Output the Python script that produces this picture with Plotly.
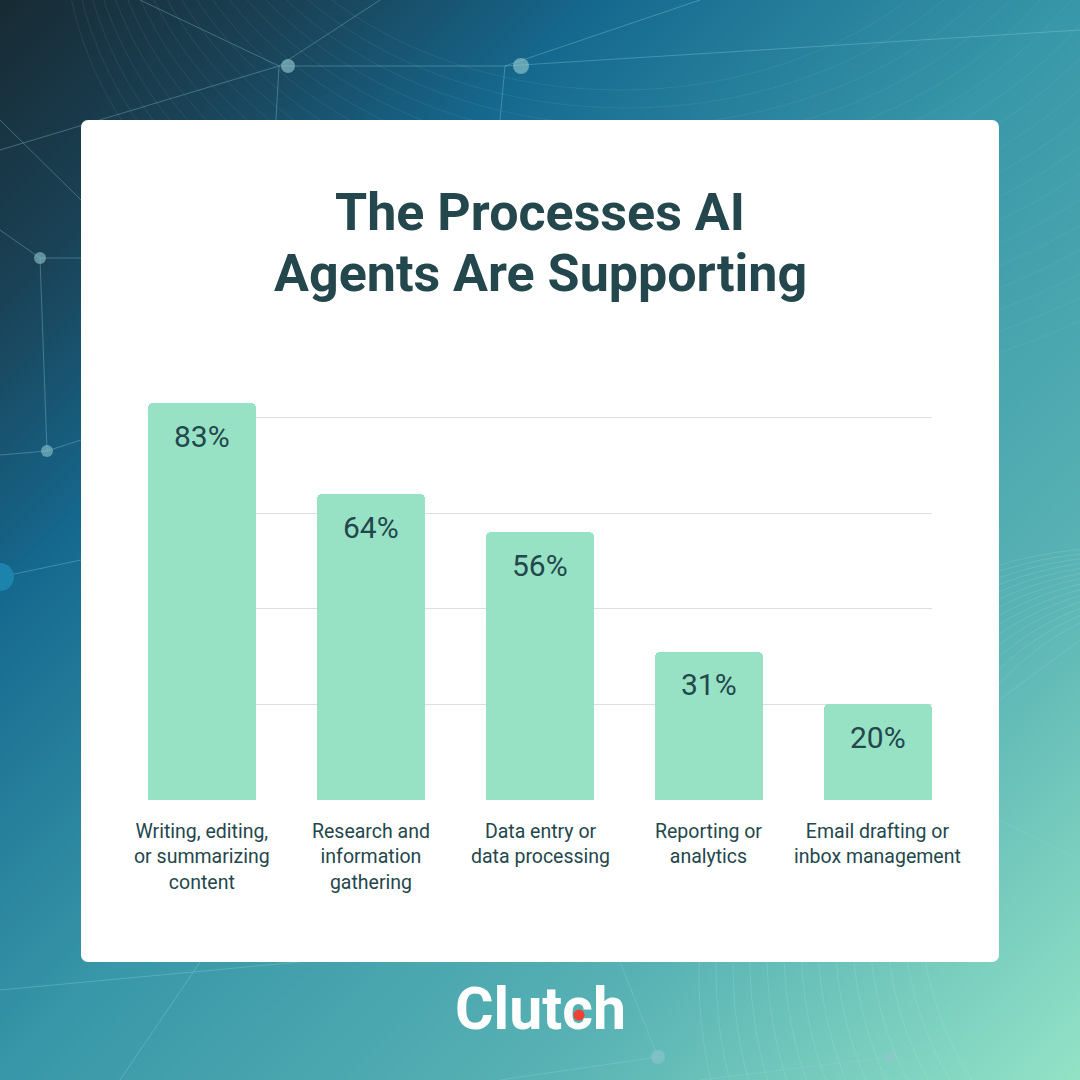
import base64
import plotly.graph_objects as go

# ---------------- data ----------------
categories = [
    "Writing, editing,<br>or summarizing<br>content",
    "Research and<br>information<br>gathering",
    "Data entry or<br>data processing",
    "Reporting or<br>analytics",
    "Email drafting or<br>inbox management",
]
values = [83, 64, 56, 31, 20]
value_labels = ["83%", "64%", "56%", "31%", "20%"]
grid_ticks = [0, 20, 40, 60, 80, 100]
title_lines = ["The Processes AI", "Agents Are Supporting"]
brand_text = "Clutch"

# ---------------- styles ----------------
W = H = 1080
BAR_COLOR = "#97e2c5"
TEXT_COLOR = "#23474c"
GRID_COLOR = "#dcdfdf"

# background (gradient + faint network decoration + white card)
lines = [
    (279, 66, 380, 0), (279, 66, 140, 0), (279, 66, 276, 120), (279, 66, 0, 150),
    (279, 66, 505, 66), (505, 66, 700, 0), (505, 66, 500, 120), (505, 66, 1080, 30),
    (40, 258, 81, 258), (40, 258, 47, 451), (40, 258, 0, 230), (47, 451, 0, 455),
    (47, 451, 81, 440), (0, 577, 81, 560), (0, 120, 81, 200),
    (890, 1057, 1080, 990), (890, 1057, 700, 1080), (890, 1057, 999, 962),
    (658, 1057, 500, 1080), (658, 1057, 620, 962), (999, 700, 1080, 640),
    (999, 820, 1080, 860), (0, 990, 300, 962), (120, 1080, 200, 962),
]
nodes = [(288, 66, 7, 0.35), (521, 66, 8, 0.35), (40, 258, 6, 0.3), (47, 451, 6, 0.3),
         (890, 1057, 6, 0.3), (658, 1057, 7, 0.3)]
svg = [f'<svg xmlns="http://www.w3.org/2000/svg" width="{W}" height="{H}" viewBox="0 0 {W} {H}">',
       '<defs><linearGradient id="g" x1="0" y1="0" x2="1" y2="1">',
       '<stop offset="0" stop-color="#172a33"/>',
       '<stop offset="0.14" stop-color="#1a4256"/>',
       '<stop offset="0.28" stop-color="#15698f"/>',
       '<stop offset="0.5" stop-color="#3897a8"/>',
       '<stop offset="0.75" stop-color="#58b2b4"/>',
       '<stop offset="1" stop-color="#93e3c6"/>',
       '</linearGradient></defs>',
       f'<rect width="{W}" height="{H}" fill="url(#g)"/>']
for i in range(18):
    svg.append(f'<ellipse cx="{620 + i * 6}" cy="{-240 + i * 10}" rx="{420 + i * 14}" ry="{330 + i * 8}" '
               f'fill="none" stroke="#9fd4e0" stroke-opacity="0.10" stroke-width="1"/>')
for i in range(14):
    svg.append(f'<ellipse cx="{1180 - i * 5}" cy="{900 + i * 6}" rx="{260 + i * 12}" ry="{300 + i * 10}" '
               f'fill="none" stroke="#e0fff5" stroke-opacity="0.12" stroke-width="1"/>')
for (x1, y1, x2, y2) in lines:
    svg.append(f'<line x1="{x1}" y1="{y1}" x2="{x2}" y2="{y2}" stroke="#8fd0dc" stroke-opacity="0.35" stroke-width="1"/>')
for (cx, cy, r, o) in nodes:
    svg.append(f'<circle cx="{cx}" cy="{cy}" r="{r}" fill="#8fc6cc" fill-opacity="{o + 0.3}"/>')
svg.append('<circle cx="0" cy="577" r="14" fill="#1d86b0" fill-opacity="0.9"/>')
svg.append('<rect x="81" y="120" width="918" height="842" rx="7" ry="7" fill="#ffffff"/>')
svg.append('<circle cx="579" cy="1015" r="5.5" fill="#ef4136"/>')
svg.append('</svg>')
bg_uri = "data:image/svg+xml;base64," + base64.b64encode("".join(svg).encode()).decode()

fig = go.Figure()
fig.add_trace(go.Bar(
    x=categories, y=values, width=0.64,
    marker=dict(color=BAR_COLOR, line=dict(width=0), cornerradius=5),
    hoverinfo="skip", showlegend=False,
))

annotations = []
for c, v, t in zip(categories, values, value_labels):
    annotations.append(dict(x=c, y=v, xref="x", yref="y", text=t, showarrow=False,
                            yanchor="middle", yshift=-33,
                            font=dict(family="Roboto", size=30, color=TEXT_COLOR)))
    annotations.append(dict(x=c, y=0, xref="x", yref="y", text=c, showarrow=False,
                            yanchor="top", yshift=-18, align="center",
                            font=dict(family="Roboto", size=19.5, color=TEXT_COLOR)))
for line, ypix in zip(title_lines, [213, 273]):
    annotations.append(dict(x=0.5, y=1 - ypix / H, xref="paper", yref="paper", text=f"<b>{line}</b>",
                            showarrow=False, xanchor="center", yanchor="middle",
                            font=dict(family="Roboto", size=52, color=TEXT_COLOR)))
annotations.append(dict(x=0.5, y=1 - 1008 / H, xref="paper", yref="paper", text=f"<b>{brand_text}</b>",
                        showarrow=False, xanchor="center", yanchor="middle",
                        font=dict(family="Roboto", size=59, color="#ffffff")))

fig.update_layout(
    width=W, height=H,
    margin=dict(l=0, r=0, t=0, b=0),
    paper_bgcolor="#1a6f95", plot_bgcolor="rgba(0,0,0,0)",
    images=[dict(source=bg_uri, xref="paper", yref="paper", x=0, y=1, sizex=1, sizey=1,
                 xanchor="left", yanchor="top", sizing="stretch", layer="below")],
    xaxis=dict(domain=[148 / W, 932 / W], range=[-0.32, 4.32], showticklabels=False,
               showgrid=False, zeroline=False, showline=False, fixedrange=True),
    yaxis=dict(domain=[1 - 800 / H, 1 - 322 / H], range=[0, 100], tickvals=grid_ticks,
               showticklabels=False, showgrid=True, gridcolor=GRID_COLOR, gridwidth=1,
               zeroline=False, showline=False, fixedrange=True),
    annotations=annotations,
    bargap=0,
)

fig.write_html("out.html", config={"displayModeBar": False},
               post_script="document.body.style.margin='0';document.body.style.padding='0';")
